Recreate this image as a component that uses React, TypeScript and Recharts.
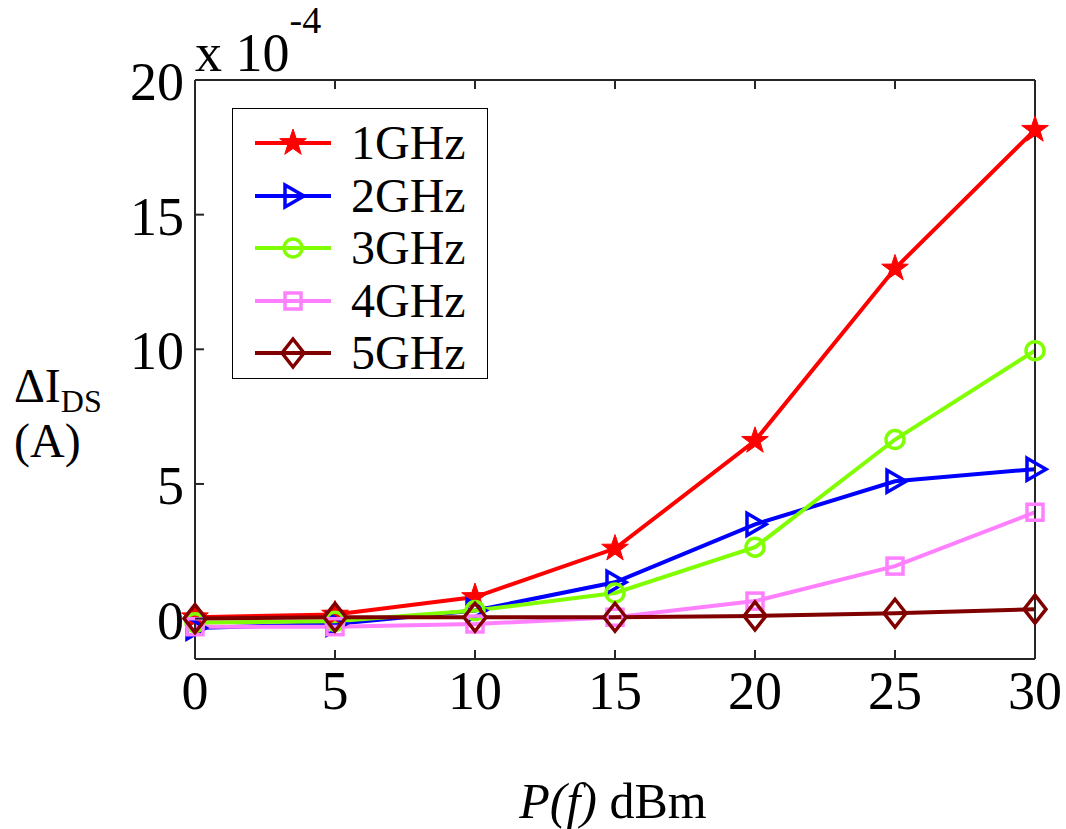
import React from "react";
import { LineChart, Line, XAxis, YAxis } from "recharts";

const power = [0, 5, 10, 15, 20, 25, 30];
const ghz1 = [0.05, 0.15, 0.8, 2.6, 6.6, 13.0, 18.15];
const ghz2 = [-0.35, -0.2, 0.3, 1.35, 3.5, 5.1, 5.55];
const ghz3 = [-0.15, -0.1, 0.3, 0.95, 2.65, 6.65, 9.95];
const ghz4 = [-0.3, -0.3, -0.2, 0.05, 0.65, 1.95, 3.95];
const ghz5 = [0.0, 0.05, 0.05, 0.05, 0.1, 0.2, 0.35];

const xTicks = [0, 5, 10, 15, 20, 25, 30];
const yTicks = [0, 5, 10, 15, 20];

const series = [
  { key: "g1", name: "1GHz", color: "#ff0000", shape: "star", values: ghz1 },
  { key: "g2", name: "2GHz", color: "#0000ff", shape: "tri", values: ghz2 },
  { key: "g3", name: "3GHz", color: "#7fff00", shape: "circle", values: ghz3 },
  { key: "g4", name: "4GHz", color: "#ff80ff", shape: "square", values: ghz4 },
  { key: "g5", name: "5GHz", color: "#800000", shape: "diamond", values: ghz5 },
];

const data = power.map((p, i) => {
  const row: any = { p };
  series.forEach((s) => (row[s.key] = s.values[i]));
  return row;
});

const FONT = "'Liberation Serif', 'DejaVu Serif', serif";
const AX = "#262626";

function Marker({ shape, color, cx, cy }: { shape: string; color: string; cx: number; cy: number }) {
  if (shape === "star") {
    const pts: string[] = [];
    for (let i = 0; i < 10; i++) {
      const r = i % 2 === 0 ? 14 : 5.5;
      const a = -Math.PI / 2 + (i * Math.PI) / 5;
      pts.push(`${cx + r * Math.cos(a)},${cy + r * Math.sin(a)}`);
    }
    return <polygon points={pts.join(" ")} fill={color} stroke={color} strokeWidth={1} />;
  }
  if (shape === "tri")
    return <polygon points={`${cx - 8},${cy - 11} ${cx + 11},${cy} ${cx - 8},${cy + 11}`} fill="none" stroke={color} strokeWidth={3.5} />;
  if (shape === "circle") return <circle cx={cx} cy={cy} r={9} fill="none" stroke={color} strokeWidth={3.5} />;
  if (shape === "square") return <rect x={cx - 8} y={cy - 8} width={16} height={16} fill="none" stroke={color} strokeWidth={3.5} />;
  return <polygon points={`${cx},${cy - 14} ${cx + 11},${cy} ${cx},${cy + 14} ${cx - 11},${cy}`} fill="none" stroke={color} strokeWidth={3.5} />;
}

const BottomTick = ({ x, y, payload }: any) => (
  <g>
    <line x1={x} y1={y} x2={x} y2={y - 9} stroke={AX} strokeWidth={2} />
    <text x={x} y={y + 50} textAnchor="middle" fontFamily={FONT} fontSize={54} fill="#000">{payload.value}</text>
  </g>
);
const TopTick = ({ x, y }: any) => <line x1={x} y1={y} x2={x} y2={y + 9} stroke={AX} strokeWidth={2} />;
const LeftTick = ({ x, y, payload }: any) => (
  <g>
    <line x1={x} y1={y} x2={x + 9} y2={y} stroke={AX} strokeWidth={2} />
    <text x={x - 11} y={y + 20} textAnchor="end" fontFamily={FONT} fontSize={54} fill="#000">{payload.value}</text>
  </g>
);
const RightTick = ({ x, y }: any) => <line x1={x} y1={y} x2={x - 9} y2={y} stroke={AX} strokeWidth={2} />;

const LegendBox = () => (
  <div style={{ position: "absolute", left: 232, top: 108, border: "1.5px solid #000", background: "#fff", width: 256, height: 271, boxSizing: "border-box", paddingTop: 8 }}>
    {series.map((s) => (
      <div key={s.key} style={{ display: "flex", alignItems: "center", height: 52.5 }}>
        <svg width={118} height={40} style={{ flex: "none" }}>
          <line x1={22} y1={20} x2={98} y2={20} stroke={s.color} strokeWidth={4} />
          <Marker shape={s.shape} color={s.color} cx={60} cy={20} />
        </svg>
        <span style={{ fontFamily: FONT, fontSize: 48, color: "#000", lineHeight: 1 }}>{s.name}</span>
      </div>
    ))}
  </div>
);

export default function App() {
  return (
    <div style={{ position: "absolute", left: 0, top: 0, width: 1066, height: 829, background: "#fff" }}>
      <LineChart width={1066} height={829} data={data} margin={{ top: 79, right: 30, bottom: 169, left: 194 }}>
        <XAxis dataKey="p" type="number" domain={[0, 30]} ticks={xTicks} stroke={AX} strokeWidth={2}
          tickLine={false} tickSize={0} tickMargin={0} tick={<BottomTick />} height={1} interval={0} />
        <XAxis xAxisId="top" orientation="top" dataKey="p" type="number" domain={[0, 30]} ticks={xTicks} stroke={AX}
          strokeWidth={2} tickLine={false} tickSize={0} tickMargin={0} tick={<TopTick />} height={1} interval={0} />
        <YAxis type="number" domain={[-1.5, 20]} ticks={yTicks} stroke={AX} strokeWidth={2} width={1}
          tickLine={false} tickSize={0} tickMargin={0} tick={<LeftTick />} interval={0} allowDataOverflow />
        <YAxis yAxisId="right" orientation="right" type="number" domain={[-1.5, 20]} ticks={yTicks} stroke={AX}
          strokeWidth={2} width={1} tickLine={false} tickSize={0} tickMargin={0} tick={<RightTick />} interval={0} />
        {series.map((s) => (
          <Line key={s.key} dataKey={s.key} name={s.name} stroke={s.color} strokeWidth={4} isAnimationActive={false}
            dot={(props: any) => <Marker key={`${s.key}-${props.index}`} shape={s.shape} color={s.color} cx={props.cx} cy={props.cy} />}
            activeDot={false} />
        ))}
      </LineChart>
      <LegendBox />
      <div style={{ position: "absolute", left: 195, top: 0, fontFamily: FONT, fontSize: 54, lineHeight: 1, whiteSpace: "nowrap" }}>
        <span style={{ position: "relative", top: 26 }}>x 10</span>
        <span style={{ fontSize: 38, position: "relative", top: -12 }}>-4</span>
      </div>
      <div style={{ position: "absolute", left: 14, top: 358, fontFamily: FONT, fontSize: 48, lineHeight: 1.15, whiteSpace: "nowrap" }}>
        <div>ΔI<span style={{ fontSize: 32, position: "relative", top: 10 }}>DS</span></div>
        <div>(A)</div>
      </div>
      <div style={{ position: "absolute", left: 0, width: 1066, paddingLeft: 160, boxSizing: "border-box", top: 772, textAlign: "center", fontFamily: FONT, fontSize: 50, whiteSpace: "nowrap" }}>
        <i>P(f)</i> dBm
      </div>
    </div>
  );
}
